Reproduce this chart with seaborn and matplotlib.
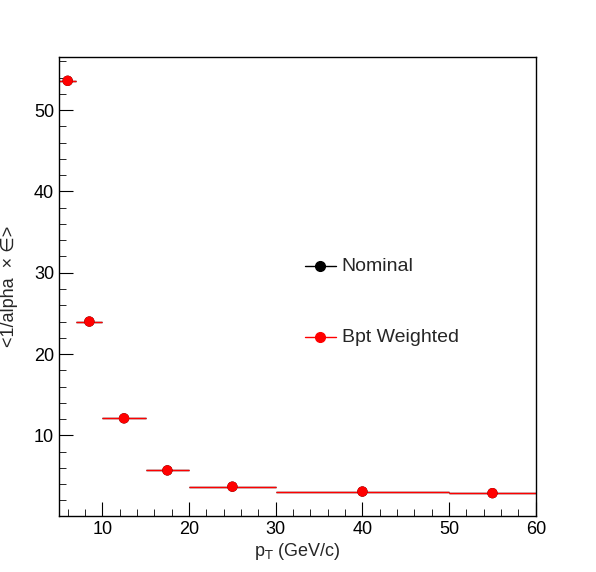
import matplotlib
matplotlib.use("Agg")
import matplotlib.pyplot as plt
from matplotlib.ticker import MultipleLocator
import numpy as np
import pandas as pd
import seaborn as sns

# pT bins and efficiency-weighted values
bin_lo = [5, 7, 10, 15, 20, 30, 50]
bin_hi = [7, 10, 15, 20, 30, 50, 60]
nominal = [53.6, 24.0, 12.1, 5.7, 3.7, 3.1, 2.9]
weighted = [53.6, 24.0, 12.1, 5.7, 3.7, 3.1, 2.9]

sns.set_style("ticks")
plt.rcParams['font.family'] = ['Liberation Sans', 'DejaVu Sans']

centers = [(a + b) / 2 for a, b in zip(bin_lo, bin_hi)]
halfw = [(b - a) / 2 for a, b in zip(bin_lo, bin_hi)]
df = pd.DataFrame({"pt": centers * 2, "val": nominal + weighted,
                   "series": ["Nominal"] * 7 + ["Bpt Weighted"] * 7})

fig = plt.figure(figsize=(5.96, 5.72), dpi=100)
ax = fig.add_axes([0.099, 0.098, 0.8, 0.802])

colors = {"Nominal": "black", "Bpt Weighted": "red"}
for name in ["Nominal", "Bpt Weighted"]:
    sub = df[df.series == name]
    ax.errorbar(sub.pt, sub.val, xerr=halfw, fmt="none", ecolor=colors[name], elinewidth=1)
sns.scatterplot(data=df, x="pt", y="val", hue="series", palette=colors, s=55,
                edgecolor="none", ax=ax, legend=False, zorder=3)

# legend drawn as in ROOT
for ly, name in [(30.8, "Nominal"), (22.1, "Bpt Weighted")]:
    ax.plot([33.4, 36.9], [ly, ly], color=colors[name], lw=1)
    ax.plot([35.1], [ly], "o", color=colors[name], ms=7)
    ax.text(37.6, ly, name, fontsize=14, va="center")

ax.set_xlim(5, 60)
ax.set_ylim(0.1, 56.5)
ax.xaxis.set_major_locator(MultipleLocator(10))
ax.xaxis.set_minor_locator(MultipleLocator(2))
ax.yaxis.set_major_locator(MultipleLocator(10))
ax.yaxis.set_minor_locator(MultipleLocator(2))
ax.tick_params(which="both", direction="in", top=False, right=False, labelsize=13,
               colors="black")
ax.tick_params(which="major", length=10)
ax.tick_params(which="minor", length=5)
ax.set_xlabel(r"p$_{\mathrm{T}}$ (GeV/c)", fontsize=13)
ax.xaxis.set_label_coords(0.5, -0.055)
ax.set_ylabel("<1/alpha  × ∈>", fontsize=13)
ax.yaxis.set_label_coords(-0.085, 0.5)
for s in ax.spines.values():
    s.set_linewidth(1)
    s.set_color("black")
fig.savefig("out.png")
